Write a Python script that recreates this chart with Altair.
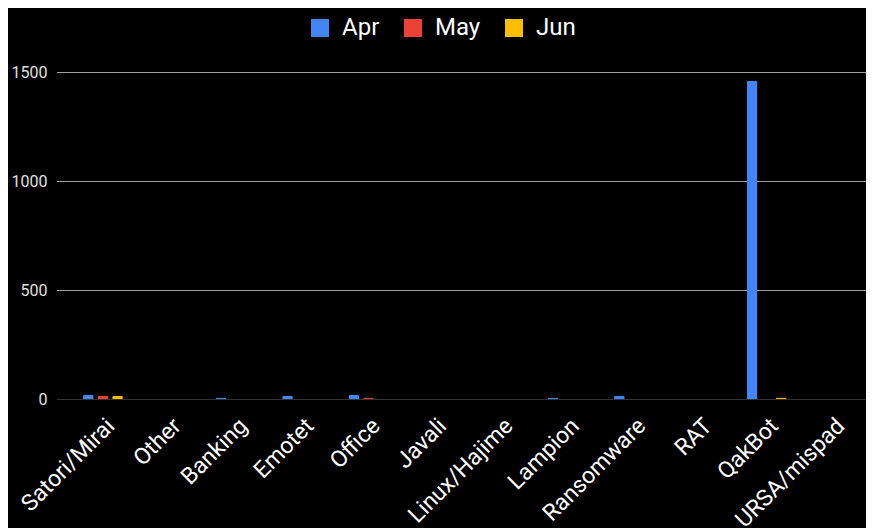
import altair as alt
import pandas as pd

categories = ["Satori/Mirai", "Other", "Banking", "Emotet", "Office", "Javali",
              "Linux/Hajime", "Lampion", "Ransomware", "RAT", "QakBot", "URSA/mispad"]
months = ["Apr", "May", "Jun"]
apr = [20, 0, 7, 15, 20, 0, 0, 7, 15, 0, 1460, 0]
may = [14, 0, 0, 0, 7, 0, 0, 0, 0, 0, 0, 0]
jun = [15, 0, 0, 0, 0, 0, 0, 0, 0, 0, 7, 0]
colors = ["#4285F4", "#EA4335", "#FBBC04"]
y_ticks = [0, 500, 1000, 1500]

rows = []
for m, vals in zip(months, [apr, may, jun]):
    for c, v in zip(categories, vals):
        rows.append({"category": c, "month": m, "value": v})
df = pd.DataFrame(rows)
grid_df = pd.DataFrame({"value": y_ticks})

FONT = "Roboto"
W, H = 809, 327

y_scale = alt.Scale(domain=[0, 1500], nice=False)

grid = alt.Chart(grid_df).mark_rule(strokeWidth=1, yOffset=0.5).encode(
    y=alt.Y("value:Q", scale=y_scale, title=None,
            axis=alt.Axis(values=y_ticks, format="d", labelColor="#e0e0e0",
                          labelFont=FONT, labelFontSize=16, labelPadding=10,
                          ticks=False, domain=False, grid=False)),
    x=alt.value(0), x2=alt.value(W),
    color=alt.condition("datum.value == 0", alt.value("#333333"), alt.value("#a0a0a0")),
)

bars = alt.Chart(df).mark_bar(
    cornerRadiusTopLeft=2, cornerRadiusTopRight=2
).encode(
    x=alt.X("category:N", sort=categories, title=None,
            scale=alt.Scale(paddingInner=0.40, paddingOuter=0, range=[26, 796]),
            axis=alt.Axis(labelAngle=-45, labelAlign="right", labelBaseline="middle",
                          labelColor="#ffffff", labelFont=FONT, labelFontSize=23,
                          labelPadding=23, labelOffset=8, ticks=False, domain=False,
                          grid=False, labelOverlap=False)),
    xOffset=alt.XOffset("month:N", sort=months,
                        scale=alt.Scale(paddingInner=0.27, paddingOuter=0)),
    y=alt.Y("value:Q", title=None, scale=y_scale),
    color=alt.Color("month:N", sort=months, title=None,
                    scale=alt.Scale(domain=months, range=colors),
                    legend=alt.Legend(orient="none", legendX=251, legendY=-56,
                                      direction="horizontal", symbolType="square",
                                      symbolSize=324, symbolStrokeWidth=0,
                                      labelColor="#ffffff", labelFont=FONT,
                                      labelFontSize=24, labelOffset=10,
                                      columnPadding=21, padding=0)),
)

chart = alt.layer(grid, bars).properties(
    width=W, height=H,
    autosize=alt.AutoSizeParams(type="none"),
    padding={"left": 49, "top": 64, "right": 0, "bottom": 129},
    background="#000000",
).configure_view(stroke=None)

chart.save("out.html", embed_options={"renderer": "svg", "actions": False})
